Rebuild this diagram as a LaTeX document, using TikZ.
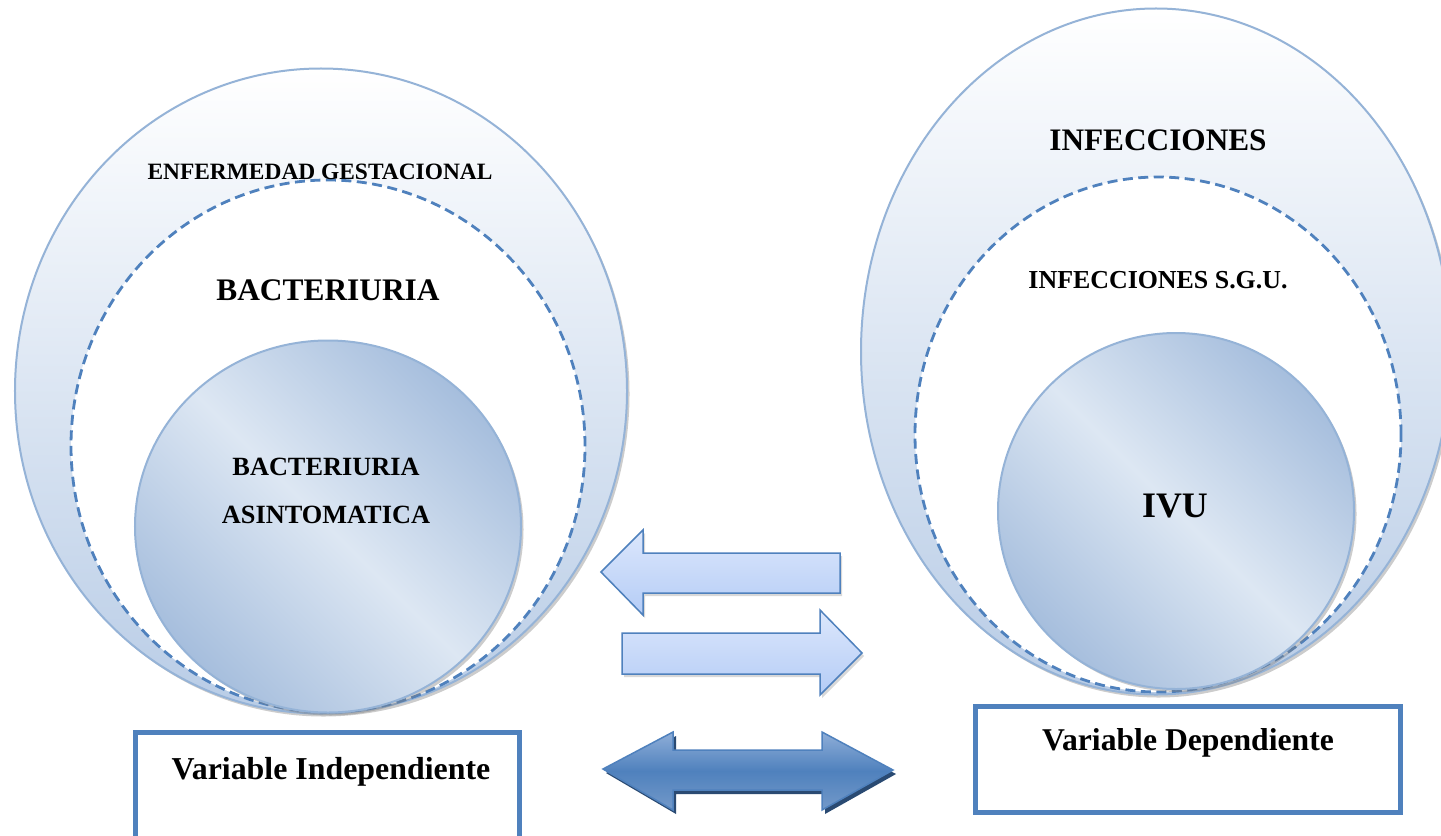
\documentclass[tikz,border=0pt]{standalone}
\usepackage{fontspec}
\setmainfont{Liberation Serif}
\usetikzlibrary{shapes.geometric,shadows}
\definecolor{bordblue}{HTML}{95B3D7}
\definecolor{dashblue}{HTML}{4F81BD}
\definecolor{outbot}{HTML}{B8CCE6}
\definecolor{inA}{HTML}{A6BEDD}
\definecolor{inB}{HTML}{DDE7F3}
\definecolor{latop}{HTML}{DCE7FC}
\definecolor{labot}{HTML}{B4CCF6}
\definecolor{dbtop}{HTML}{8FAED8}
\definecolor{dbbot}{HTML}{7399C9}
\definecolor{dbshadow}{HTML}{2A4A72}
\tikzset{
  outerell/.style={ellipse, inner sep=0pt, draw=bordblue, line width=2bp,
    top color=white, bottom color=outbot,
    drop shadow={shadow xshift=2.5bp, shadow yshift=-3bp, opacity=0.4}},
  dashell/.style={ellipse, inner sep=0pt, draw=dashblue, line width=2.8bp,
    dash pattern=on 10bp off 5.5bp, fill=white},
  innerc/.style={ellipse, inner sep=0pt, draw=bordblue, line width=2bp,
    top color=inA, bottom color=inA, middle color=inB, shading angle=-45,
    drop shadow={shadow xshift=2.5bp, shadow yshift=-3bp, opacity=0.4}},
  boxst/.style={rectangle, inner sep=0pt, draw=dashblue, line width=5bp, fill=white},
  lbl/.style={anchor=base, inner sep=0pt, font=\bfseries},
  lightarrow/.style={draw=dashblue, line width=1.5bp, line join=miter,
    top color=latop, bottom color=labot,
    drop shadow={shadow xshift=2bp, shadow yshift=-3bp, opacity=0.3}},
  bigarrow/.style={draw=dashblue, line width=1.5bp, line join=miter,
    top color=dbtop, bottom color=dbbot, middle color=dashblue,
    drop shadow={shadow xshift=3bp, shadow yshift=-4bp, fill=dbshadow, opacity=1}}
}
\begin{document}
\begin{tikzpicture}[x=1bp,y=-1bp]
\clip (0,0) rectangle (1441,835);
\fill[white] (0,0) rectangle (1441,835);

% left group
\node[outerell, minimum width=612bp, minimum height=645bp] (outL) at (321,391) {};
\node[dashell, minimum width=514bp, minimum height=532bp] (dashL) at (328,446) {};
\node[innerc, minimum width=386bp, minimum height=372bp] (inL) at (328,526.5) {};
\node[lbl, font=\bfseries\fontsize{23.5}{28}\selectfont] (tEnf) at (320,179) {ENFERMEDAD GESTACIONAL};
\node[lbl, font=\bfseries\fontsize{31.5}{36}\selectfont] (tBac) at (328,300) {BACTERIURIA};
\node[lbl, font=\bfseries\fontsize{26.4}{30}\selectfont] (tBa1) at (326,475) {BACTERIURIA};
\node[lbl, font=\bfseries\fontsize{26.4}{30}\selectfont] (tBa2) at (326,523) {ASINTOMATICA};

% right group
\node[outerell, minimum width=590bp, minimum height=686bp] (outR) at (1156,351.5) {};
\node[dashell, minimum width=486bp, minimum height=515bp] (dashR) at (1158,434.5) {};
\node[innerc, minimum width=356bp, minimum height=356bp] (inR) at (1176,511) {};
\node[lbl, font=\bfseries\fontsize{31.4}{36}\selectfont] (tInf) at (1158,150) {INFECCIONES};
\node[lbl, font=\bfseries\fontsize{26}{30}\selectfont] (tSgu) at (1158,288) {INFECCIONES S.G.U.};
\node[lbl, font=\bfseries\fontsize{36}{40}\selectfont] (tIvu) at (1175,517) {IVU};

% boxes
\node[boxst, minimum width=384bp, minimum height=130bp] (boxL) at (327.5,797.5) {};
\node[lbl, font=\bfseries\fontsize{32}{36}\selectfont] (tInd) at (331,779) {Variable Independiente};
\node[boxst, minimum width=425bp, minimum height=106bp] (boxR) at (1188,759.5) {};
\node[lbl, font=\bfseries\fontsize{31.8}{36}\selectfont] (tDep) at (1188,750) {Variable Dependiente};

% arrows
\draw[lightarrow] (601,572) -- (643,530) -- (643,553) -- (840,553) -- (840,593)
  -- (643,593) -- (643,615) -- cycle;
\draw[lightarrow] (622,633) -- (820,633) -- (820,610) -- (862,653) -- (820,695)
  -- (820,674) -- (622,674) -- cycle;
\draw[bigarrow] (603,769) -- (673,732) -- (673,750) -- (822,750) -- (822,732)
  -- (893,770) -- (822,810) -- (822,790) -- (673,790) -- (673,810) -- cycle;
\end{tikzpicture}
\end{document}
